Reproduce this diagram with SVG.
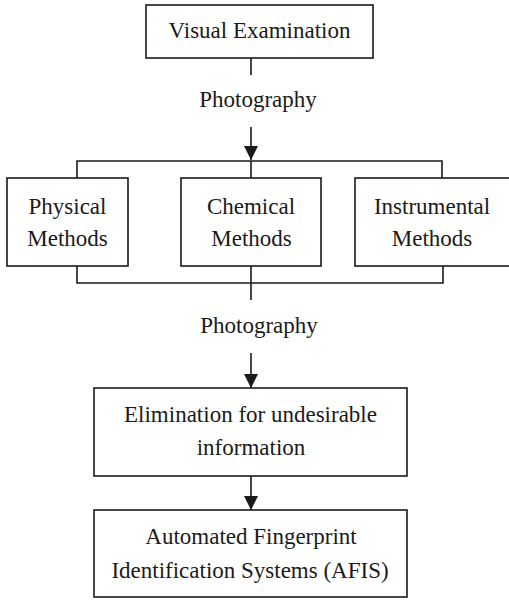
<svg xmlns="http://www.w3.org/2000/svg" width="509" height="601" viewBox="0 0 509 601">
<style>
.box{fill:#fff;stroke:#1a1a1a;stroke-width:1.6}
.ln{fill:none;stroke:#1a1a1a;stroke-width:1.6}
text{font-family:"Liberation Serif","Times New Roman",serif;font-size:23px;fill:#1a1a1a;text-anchor:middle}
</style>
<defs>
<marker id="ah" markerWidth="14" markerHeight="14" refX="14" refY="7" orient="auto" markerUnits="userSpaceOnUse">
<path d="M0,0 L14,7 L0,14 Z" fill="#1a1a1a"/>
</marker>
</defs>
<rect width="509" height="601" fill="#fff"/>
<g id="connectors">
<path class="ln" d="M251,58 V75"/>
<path class="ln" d="M251,127 V160" marker-end="url(#ah)"/>
<path class="ln" d="M77,178 V161 H442 V178 M251,161 V178"/>
<path class="ln" d="M77,266 V283 H443 V266 M251,266 V300"/>
<path class="ln" d="M251,353 V388" marker-end="url(#ah)"/>
<path class="ln" d="M251,476 V510" marker-end="url(#ah)"/>
<text x="258" y="107">Photography</text>
<text x="259" y="333">Photography</text>
</g>
<g id="visual">
<rect class="box" x="146" y="5" width="227" height="53"/>
<text x="259.5" y="38">Visual Examination</text>
</g>
<g id="physical">
<rect class="box" x="7" y="178" width="121" height="88"/>
<text x="67.5" y="214">Physical</text>
<text x="67.5" y="246">Methods</text>
</g>
<g id="chemical">
<rect class="box" x="181" y="178" width="140" height="88"/>
<text x="251" y="214">Chemical</text>
<text x="251.5" y="246">Methods</text>
</g>
<g id="instrumental">
<rect class="box" x="355" y="178" width="157" height="88"/>
<text x="432" y="214">Instrumental</text>
<text x="432" y="246">Methods</text>
</g>
<g id="elimination">
<rect class="box" x="94" y="388" width="313" height="88"/>
<text x="250.5" y="422">Elimination for undesirable</text>
<text x="251" y="455">information</text>
</g>
<g id="afis">
<rect class="box" x="94" y="510" width="313" height="87"/>
<text x="251" y="544">Automated Fingerprint</text>
<text x="250" y="578">Identification Systems (AFIS)</text>
</g>
</svg>
